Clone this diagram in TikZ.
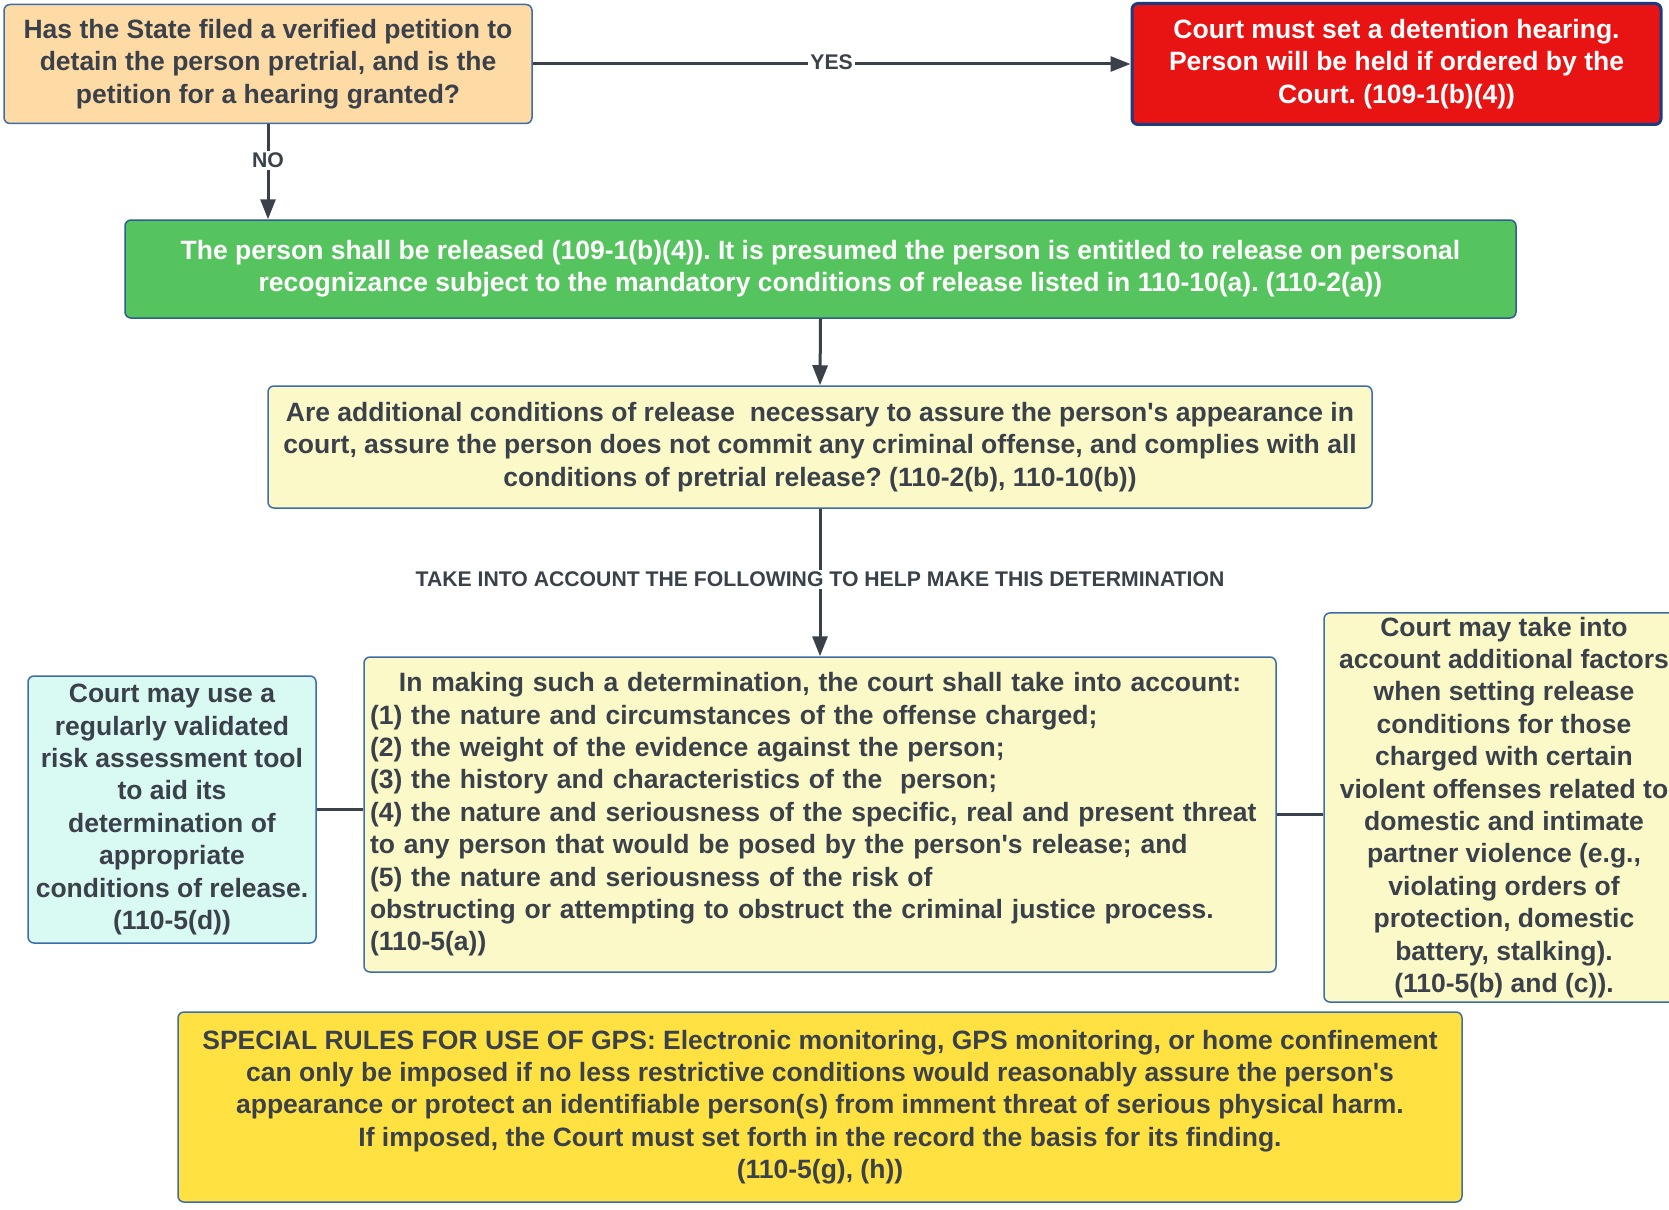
\documentclass[tikz,border=0pt]{standalone}
\usepackage{fontspec}
\setmainfont{Liberation Sans}
\usetikzlibrary{arrows.meta}
\definecolor{txt}{HTML}{3A414A}
\definecolor{bord}{HTML}{3C6DA8}
\definecolor{orangefill}{HTML}{FEDAA4}
\definecolor{redfill}{HTML}{E81414}
\definecolor{redbord}{HTML}{1A3C80}
\definecolor{greenfill}{HTML}{55C45E}
\definecolor{greenbord}{HTML}{2E5E8E}
\definecolor{yelfill}{HTML}{FBF9C8}
\definecolor{cyanfill}{HTML}{D9F9F3}
\definecolor{gpsfill}{HTML}{FFE241}
\begin{document}
\frenchspacing
\begin{tikzpicture}[x=1pt,y=-1pt,
  box/.style={draw=bord, line width=1.5pt, rounded corners=6pt, inner sep=4pt,
    font={\fontsize{26.5}{32.4}\selectfont\bfseries\frenchspacing}, text=txt, align=center},
  lbl/.style={fill=white, inner sep=2pt, font={\fontsize{21.2}{25}\selectfont\bfseries}, text=txt},
  arr/.style={draw=txt, line width=3pt, -{Triangle[width=15pt,length=20pt]}},
  conn/.style={draw=txt, line width=2.5pt}]
\useasboundingbox (0,0) rectangle (1669,1209);

\node[box, fill=orangefill, minimum width=528pt, minimum height=119pt] (q1) at (268,64)
  {Has the State filed a verified petition to\\detain the person pretrial, and is the\\petition for a hearing granted?};

\node[box, fill=redfill, draw=redbord, line width=3pt, text=white, minimum width=529pt, minimum height=121pt] (red) at (1396.5,64)
  {Court must set a detention hearing.\\Person will be held if ordered by the\\Court. (109-1(b)(4))};

\node[box, fill=greenfill, draw=greenbord, text=white, minimum width=1391pt, minimum height=98pt] (green) at (820.5,269)
  {The person shall be released (109-1(b)(4)). It is presumed the person is entitled to release on personal\\recognizance subject to the mandatory conditions of release listed in 110-10(a). (110-2(a))};

\node[box, fill=yelfill, minimum width=1104pt, minimum height=122pt] (q2) at (820,447)
  {Are additional conditions of release~ necessary to assure the person\textquotesingle{}s appearance in\\court, assure the person does not commit any criminal offense, and complies with all\\conditions of pretrial release? (110-2(b), 110-10(b))};

\node[box, fill=yelfill, align=left, text width=900pt, inner xsep=6pt, minimum height=315pt] (mid) at (820,814.5)
  {\makebox[\linewidth]{In making such a determination, the court shall take into account:}\\
   (1) the nature and circumstances of the offense charged;\\
   (2) the weight of the evidence against the person;\\
   (3) the history and characteristics of the~ person;\\
   (4) the nature and seriousness of the specific, real and present threat\\
   to any person that would be posed by the person\textquotesingle{}s release; and\\
   (5) the nature and seriousness of the risk of\\
   obstructing or attempting to obstruct the criminal justice process.\\
   (110-5(a))};

\node[box, fill=cyanfill, minimum width=288pt, minimum height=267pt] (left) at (172,809.5)
  {Court may use a\\regularly validated\\risk assessment tool\\to aid its\\determination of\\appropriate\\conditions of release.\\(110-5(d))};

\node[box, fill=yelfill, minimum width=360pt, minimum height=387pt] (right) at (1504,807.5)
  {Court may take into\\account additional factors\\when setting release\\conditions for those\\charged with certain\\violent offenses related to\\domestic and intimate\\partner violence (e.g.,\\violating orders of\\protection, domestic\\battery, stalking).\\(110-5(b) and (c)).};

\node[box, fill=gpsfill, minimum width=1284pt, minimum height=190pt] (gps) at (820,1107)
  {SPECIAL RULES FOR USE OF GPS: Electronic monitoring, GPS monitoring, or home confinement\\can only be imposed if no less restrictive conditions would reasonably assure the person\textquotesingle{}s\\appearance or protect an identifiable person(s) from imment threat of serious physical harm.\\If imposed, the Court must set forth in the record the basis for its finding.\\(110-5(g), (h))};

\draw[arr] (q1.east) -- node[lbl, pos=0.5, yshift=2pt] {YES} (red.west);
\draw[arr] (q1.south) -- node[lbl, pos=0.38] {NO} (q1.south |- green.north);
\draw[arr] (green.south) -- (q2.north);
\draw[arr] (q2.south) -- node[lbl, pos=0.477] {TAKE INTO ACCOUNT THE FOLLOWING TO HELP MAKE THIS DETERMINATION} (mid.north);
\draw[conn] (left.east) -- (left.east -| mid.west);
\draw[conn] (mid.east) -- (mid.east -| right.west);
\end{tikzpicture}
\end{document}
